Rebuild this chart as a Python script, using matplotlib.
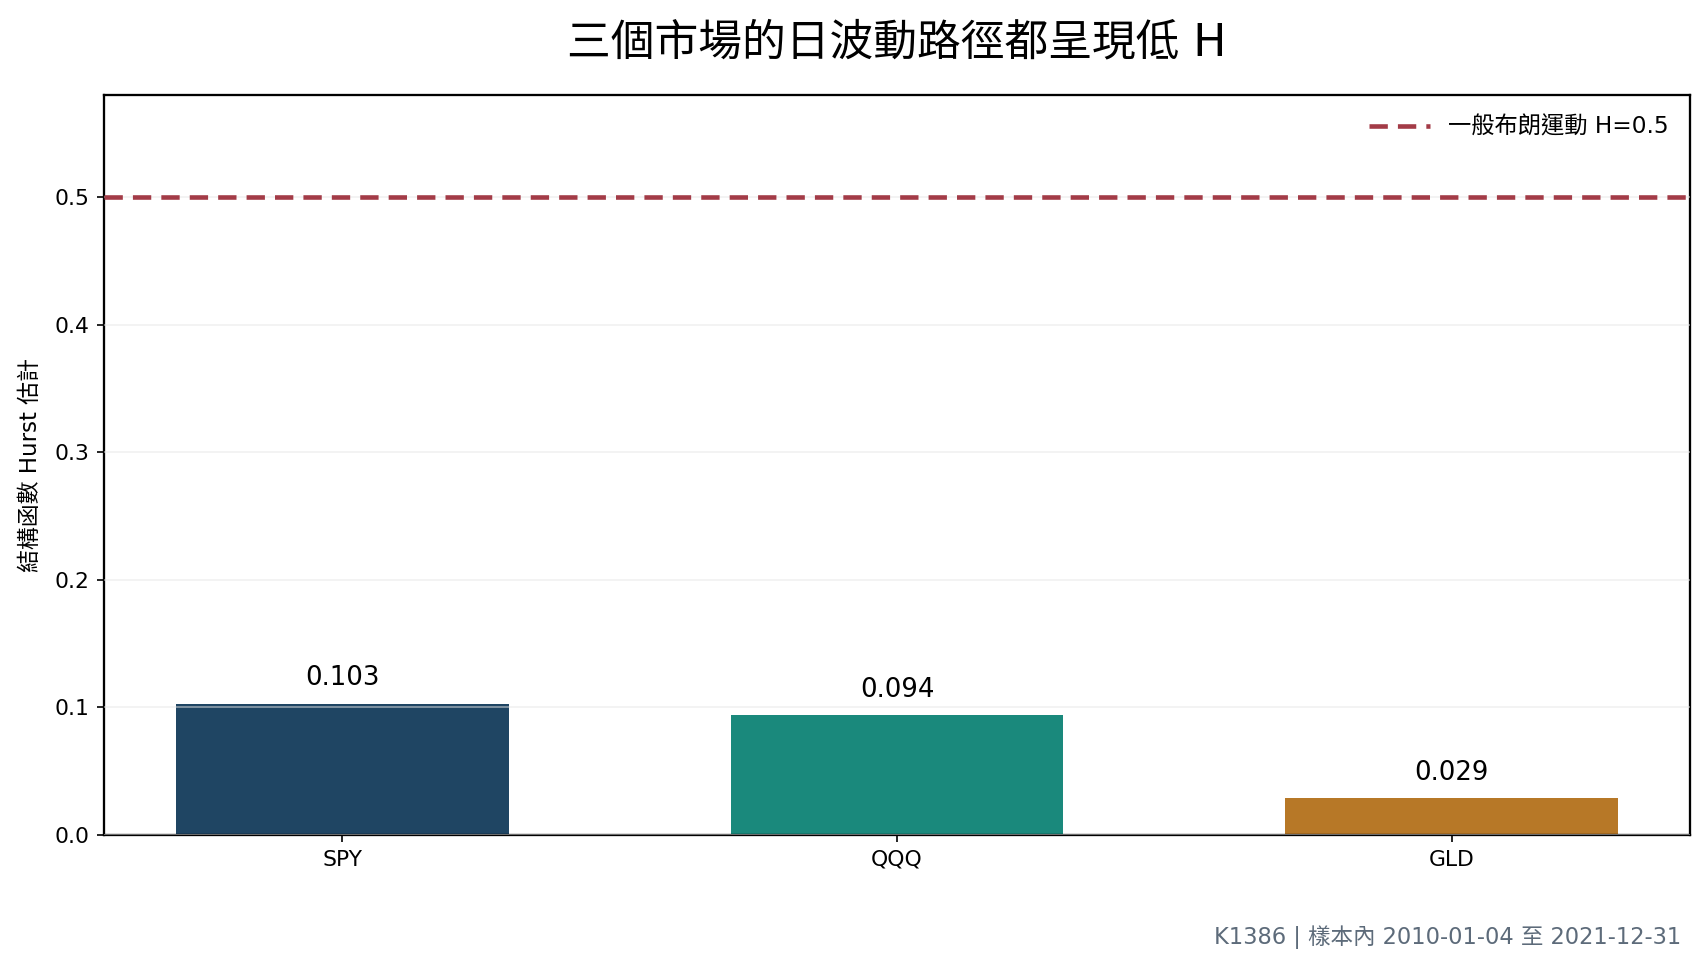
import matplotlib
matplotlib.use("Agg")
import matplotlib.pyplot as plt

plt.rcParams['font.family'] = ['DejaVu Sans', 'Noto Sans CJK TC']

markets = ["SPY", "QQQ", "GLD"]
hurst = [0.103, 0.094, 0.029]
bar_colors = ["#1f4563", "#1a897c", "#b77827"]
ref_h = 0.5
title = "三個市場的日波動路徑都呈現低 H"
ylabel = "結構函數 Hurst 估計"
ref_label = "一般布朗運動 H=0.5"
footer = "K1386 | 樣本內 2010-01-04 至 2021-12-31"
yticks = [0.0, 0.1, 0.2, 0.3, 0.4, 0.5]

dpi = 150
fig = plt.figure(figsize=(1708 / dpi, 969 / dpi), dpi=dpi)
ax = fig.add_axes([104 / 1708, 1 - 835 / 969, (1690 - 104) / 1708, (835 - 95) / 969])

x = list(range(len(markets)))
bars = ax.bar(x, hurst, width=0.6, color=bar_colors, zorder=2)
ax.axhline(ref_h, color="#a33b47", lw=2.2, ls=(0, (4, 2.2)), label=ref_label, zorder=3)
ax.bar_label(bars, labels=[f"{v:.3f}" for v in hurst], padding=6, fontsize=12.5)

ax.set_xticks(x)
ax.set_xticklabels(markets)
ax.set_yticks(yticks)
ax.set_yticklabels([f"{v:.1f}" for v in yticks])
ax.set_ylim(0, 0.58)
ax.tick_params(labelsize=10.5)
ax.yaxis.grid(True, color="#e6e6e6", lw=0.9, zorder=2.5, alpha=0.5)
ax.set_axisbelow(False)
for s in ax.spines.values():
    s.set_linewidth(1.1)
ax.set_ylabel(ylabel, fontsize=11, labelpad=6)
ax.legend(loc="upper right", frameon=False, fontsize=11.2, handlelength=2.6)

ax.set_title(title, fontsize=21, pad=19)
fig.text(1681 / 1708, 1 - 937 / 969, footer, ha="right", va="center", fontsize=10.8, color="#5d6b7a")

fig.savefig("out.png", dpi=dpi)
